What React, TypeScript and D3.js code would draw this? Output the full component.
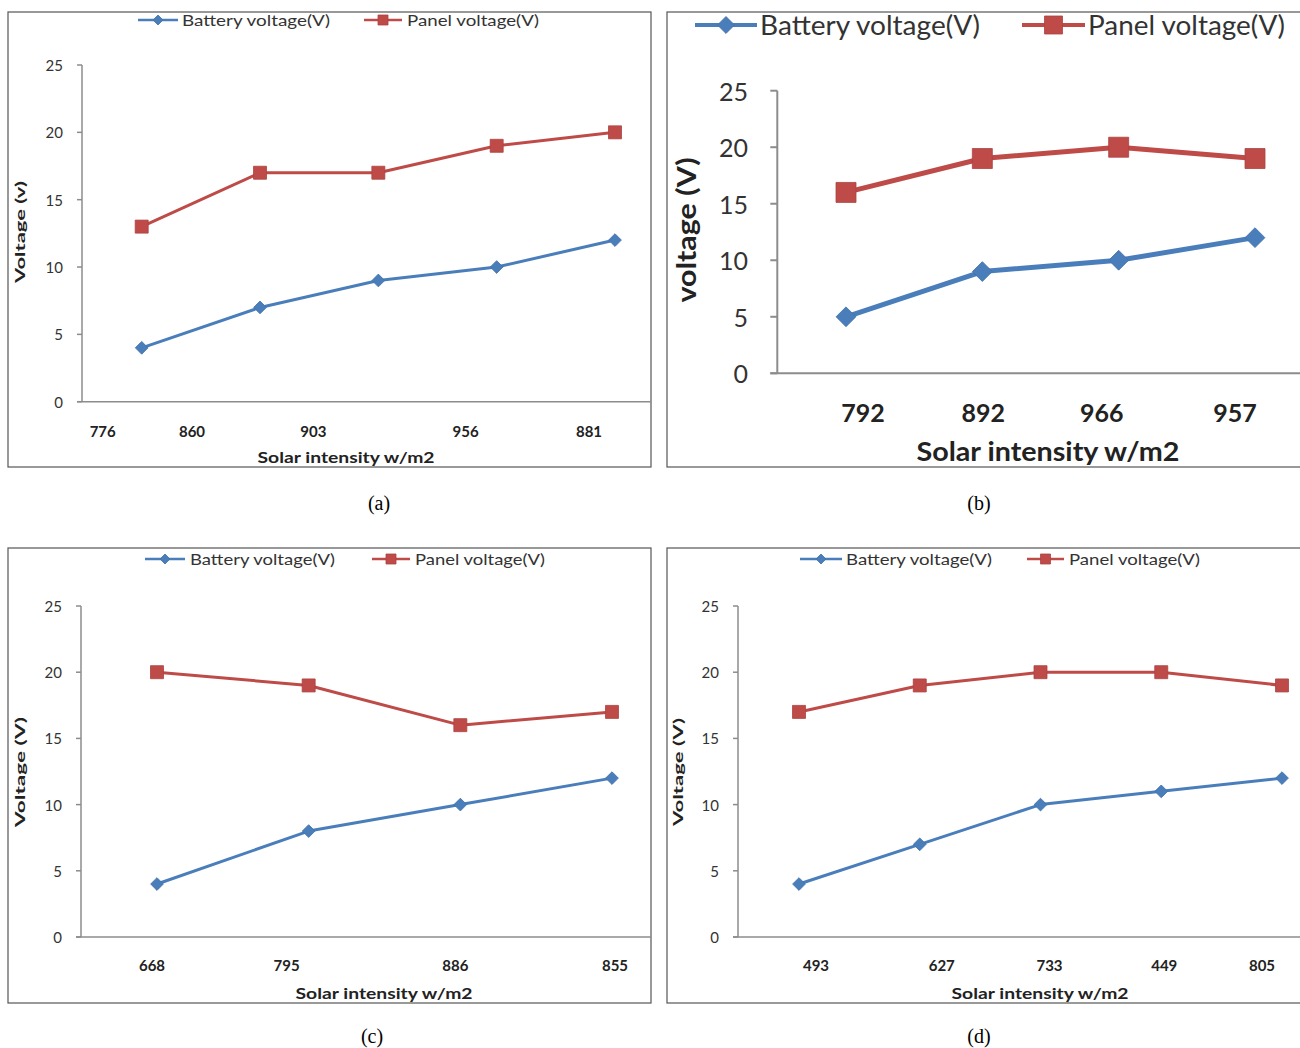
import React from "react";
import * as d3 from "d3";

// ---------- data ----------
const yTicks = [0, 5, 10, 15, 20, 25];
const seriesNames = ["Battery voltage(V)", "Panel voltage(V)"];

const catsA = ["776", "860", "903", "956", "881"];
const batteryA = [4, 7, 9, 10, 12];
const panelA = [13, 17, 17, 19, 20];

const catsB = ["792", "892", "966", "957"];
const batteryB = [5, 9, 10, 12];
const panelB = [16, 19, 20, 19];

const catsC = ["668", "795", "886", "855"];
const batteryC = [4, 8, 10, 12];
const panelC = [20, 19, 16, 17];

const catsD = ["493", "627", "733", "449", "805"];
const batteryD = [4, 7, 10, 11, 12];
const panelD = [17, 19, 20, 20, 19];

// ---------- layout ----------
const BLUE = "#4A7EBB";
const RED = "#BE4B48";
const AXIS = "#8c8c8c";
const FONT = "Lato, 'Open Sans', sans-serif";

type Cfg = {
  id: string;
  caption: string;
  capX: number;
  capY: number;
  frame: { x: number; y: number; w: number; h: number };
  axisX: number;
  y0: number;
  y25: number;
  xFirst: number;
  xLast: number;
  labelDx: number[];
  labelY: number;
  tickFont: number;
  tickLabelRight: number;
  xTickFont: number;
  yTitle: string;
  yTitleX: number;
  yTitleY: number;
  yTitleFont: number;
  yTitleLen: number;
  xTitleX: number;
  xTitleY: number;
  xTitleFont: number;
  xTitleLen: number;
  legY: number;
  legFont: number;
  leg: { x1: number; x2: number; tx: number; tw: number }[];
  lineW: number;
  sq: number;
  dia: number;
  legSq: number;
  legDia: number;
  legLineW: number;
  axisW: number;
};

const cfgA: Cfg = {
  id: "a", caption: "(a)", capX: 379, capY: 510,
  frame: { x: 8, y: 12, w: 643, h: 455 },
  axisX: 82, y0: 401.7, y25: 65, xFirst: 141.7, xLast: 615,
  labelDx: [-39, -68, -65, -31, -26], labelY: 431,
  tickFont: 15, tickLabelRight: 63, xTickFont: 15,
  yTitle: "Voltage (v)", yTitleX: 19, yTitleY: 232, yTitleFont: 14, yTitleLen: 102,
  xTitleX: 346, xTitleY: 463, xTitleFont: 15, xTitleLen: 177,
  legY: 20, legFont: 15,
  leg: [
    { x1: 138, x2: 178, tx: 182, tw: 148 },
    { x1: 364, x2: 402, tx: 407, tw: 132 },
  ],
  lineW: 3, sq: 13, dia: 9, legSq: 10, legDia: 7, legLineW: 2.5, axisW: 1.5,
};

const cfgB: Cfg = {
  id: "b", caption: "(b)", capX: 979, capY: 510,
  frame: { x: 667, y: 12, w: 640, h: 455 },
  axisX: 777.3, y0: 373.3, y25: 90.7, xFirst: 846, xLast: 1255,
  labelDx: [17, 1, -17, -20], labelY: 412,
  tickFont: 25, tickLabelRight: 748, xTickFont: 25,
  yTitle: "voltage (V)", yTitleX: 685, yTitleY: 230, yTitleFont: 27, yTitleLen: 145,
  xTitleX: 1048, xTitleY: 461, xTitleFont: 27, xTitleLen: 263,
  legY: 25, legFont: 26,
  leg: [
    { x1: 695, x2: 757, tx: 760, tw: 220 },
    { x1: 1022, x2: 1085, tx: 1088, tw: 197 },
  ],
  lineW: 5, sq: 20, dia: 14, legSq: 18, legDia: 12, legLineW: 4, axisW: 2,
};

const cfgC: Cfg = {
  id: "c", caption: "(c)", capX: 372, capY: 1043,
  frame: { x: 8, y: 548, w: 643, h: 455 },
  axisX: 81, y0: 937, y25: 606, xFirst: 157, xLast: 612,
  labelDx: [-5, -22, -5, 3], labelY: 965,
  tickFont: 15, tickLabelRight: 62, xTickFont: 15,
  yTitle: "Voltage (V)", yTitleX: 19, yTitleY: 772, yTitleFont: 14, yTitleLen: 110,
  xTitleX: 384, xTitleY: 999, xTitleFont: 15, xTitleLen: 177,
  legY: 559, legFont: 15,
  leg: [
    { x1: 145, x2: 185, tx: 190, tw: 145 },
    { x1: 372, x2: 410, tx: 415, tw: 130 },
  ],
  lineW: 3, sq: 13, dia: 9, legSq: 10, legDia: 7, legLineW: 2.5, axisW: 1.5,
};

const cfgD: Cfg = {
  id: "d", caption: "(d)", capX: 979, capY: 1043,
  frame: { x: 667, y: 548, w: 640, h: 455 },
  axisX: 738, y0: 937, y25: 606, xFirst: 799, xLast: 1282,
  labelDx: [17, 22, 9, 3, -20], labelY: 965,
  tickFont: 15, tickLabelRight: 719, xTickFont: 15,
  yTitle: "Voltage (V)", yTitleX: 677, yTitleY: 772, yTitleFont: 14, yTitleLen: 108,
  xTitleX: 1040, xTitleY: 999, xTitleFont: 15, xTitleLen: 177,
  legY: 559, legFont: 15,
  leg: [
    { x1: 800, x2: 842, tx: 846, tw: 146 },
    { x1: 1027, x2: 1064, tx: 1069, tw: 131 },
  ],
  lineW: 3, sq: 13, dia: 9, legSq: 10, legDia: 7, legLineW: 2.5, axisW: 1.5,
};

function Marker({ kind, cx, cy, size, color }: { kind: "dia" | "sq"; cx: number; cy: number; size: number; color: string }) {
  const path = d3.symbol(d3.symbolSquare, size * size)()!;
  return (
    <path
      d={path}
      transform={`translate(${cx},${cy})${kind === "dia" ? " rotate(45)" : ""}`}
      fill={color}
      stroke={d3.color(color)!.darker(0.3).toString()}
      strokeWidth={0.8}
    />
  );
}

function Panel({ cfg, cats, battery, panel }: { cfg: Cfg; cats: string[]; battery: number[]; panel: number[] }) {
  const y = d3.scaleLinear().domain([0, 25]).range([cfg.y0, cfg.y25]);
  const x = d3.scalePoint<string>().domain(cats).range([cfg.xFirst, cfg.xLast]);
  const line = d3
    .line<number>()
    .x((_, i) => x(cats[i])!)
    .y((d) => y(d));
  const f = cfg.frame;
  const tickLen = cfg.tickFont > 20 ? 7 : 5;
  const series = [
    { vals: battery, color: BLUE, kind: "dia" as const, size: cfg.dia },
    { vals: panel, color: RED, kind: "sq" as const, size: cfg.sq },
  ];
  return (
    <g>
      <defs>
        <clipPath id={`clip-${cfg.id}`}>
          <rect x={f.x} y={f.y} width={f.w} height={f.h} />
        </clipPath>
      </defs>
      <rect x={f.x} y={f.y} width={f.w} height={f.h} fill="#fff" stroke="#555" strokeWidth={1.2} />
      <g clipPath={`url(#clip-${cfg.id})`}>
        {/* y axis */}
        <line x1={cfg.axisX} x2={cfg.axisX} y1={y(25)} y2={y(0)} stroke={AXIS} strokeWidth={cfg.axisW} />
        {yTicks.map((t) => (
          <g key={t}>
            <line x1={cfg.axisX - tickLen} x2={cfg.axisX} y1={y(t)} y2={y(t)} stroke={AXIS} strokeWidth={cfg.axisW} />
            <text
              x={cfg.tickLabelRight}
              y={y(t)}
              textAnchor="end"
              dominantBaseline="central"
              fontSize={cfg.tickFont}
              fontFamily={FONT}
              fill="#333"
            >
              {t}
            </text>
          </g>
        ))}
        {/* x axis */}
        <line x1={cfg.axisX - tickLen} x2={f.x + f.w + 20} y1={y(0)} y2={y(0)} stroke={AXIS} strokeWidth={cfg.axisW} />
        {cats.map((c, i) => (
          <text
            key={c + i}
            x={x(c)! + cfg.labelDx[i]}
            y={cfg.labelY}
            textAnchor="middle"
            dominantBaseline="central"
            fontSize={cfg.xTickFont}
            fontWeight="bold"
            fontFamily={FONT}
            fill="#222"
          >
            {c}
          </text>
        ))}
        {/* titles */}
        <text
          transform={`translate(${cfg.yTitleX},${cfg.yTitleY}) rotate(-90)`}
          textAnchor="middle"
          dominantBaseline="central"
          fontSize={cfg.yTitleFont}
          fontWeight="bold"
          fontFamily={FONT}
          fill="#222"
          textLength={cfg.yTitleLen}
          lengthAdjust="spacingAndGlyphs"
        >
          {cfg.yTitle}
        </text>
        <text
          x={cfg.xTitleX}
          y={cfg.xTitleY}
          textAnchor="middle"
          fontSize={cfg.xTitleFont}
          fontWeight="bold"
          fontFamily={FONT}
          fill="#222"
          textLength={cfg.xTitleLen}
          lengthAdjust="spacingAndGlyphs"
        >
          Solar intensity w/m2
        </text>
        {/* series */}
        {series.map((s, si) => (
          <g key={si}>
            <path d={line(s.vals)!} fill="none" stroke={s.color} strokeWidth={cfg.lineW} strokeLinejoin="round" />
            {s.vals.map((v, i) => (
              <Marker key={i} kind={s.kind} cx={x(cats[i])!} cy={y(v)} size={s.size} color={s.color} />
            ))}
          </g>
        ))}
        {/* legend */}
        {cfg.leg.map((l, i) => (
          <g key={i}>
            <line x1={l.x1} x2={l.x2} y1={cfg.legY} y2={cfg.legY} stroke={series[i].color} strokeWidth={cfg.legLineW} />
            <Marker
              kind={series[i].kind}
              cx={(l.x1 + l.x2) / 2}
              cy={cfg.legY}
              size={i === 0 ? cfg.legDia : cfg.legSq}
              color={series[i].color}
            />
            <text
              x={l.tx}
              y={cfg.legY}
              dominantBaseline="central"
              fontSize={cfg.legFont}
              fontFamily={FONT}
              fill="#333"
              textLength={l.tw}
              lengthAdjust="spacingAndGlyphs"
            >
              {seriesNames[i]}
            </text>
          </g>
        ))}
      </g>
      <text
        x={cfg.capX}
        y={cfg.capY}
        textAnchor="middle"
        fontSize={20}
        fontFamily="'Liberation Serif', 'Times New Roman', serif"
        fill="#000"
      >
        {cfg.caption}
      </text>
    </g>
  );
}

export default function App() {
  return (
    <svg
      width={1300}
      height={1048}
      style={{ position: "absolute", left: 0, top: 0, background: "#fff" }}
    >
      <rect x={0} y={0} width={1300} height={1048} fill="#fff" />
      <Panel cfg={cfgA} cats={catsA} battery={batteryA} panel={panelA} />
      <Panel cfg={cfgB} cats={catsB} battery={batteryB} panel={panelB} />
      <Panel cfg={cfgC} cats={catsC} battery={batteryC} panel={panelC} />
      <Panel cfg={cfgD} cats={catsD} battery={batteryD} panel={panelD} />
    </svg>
  );
}
